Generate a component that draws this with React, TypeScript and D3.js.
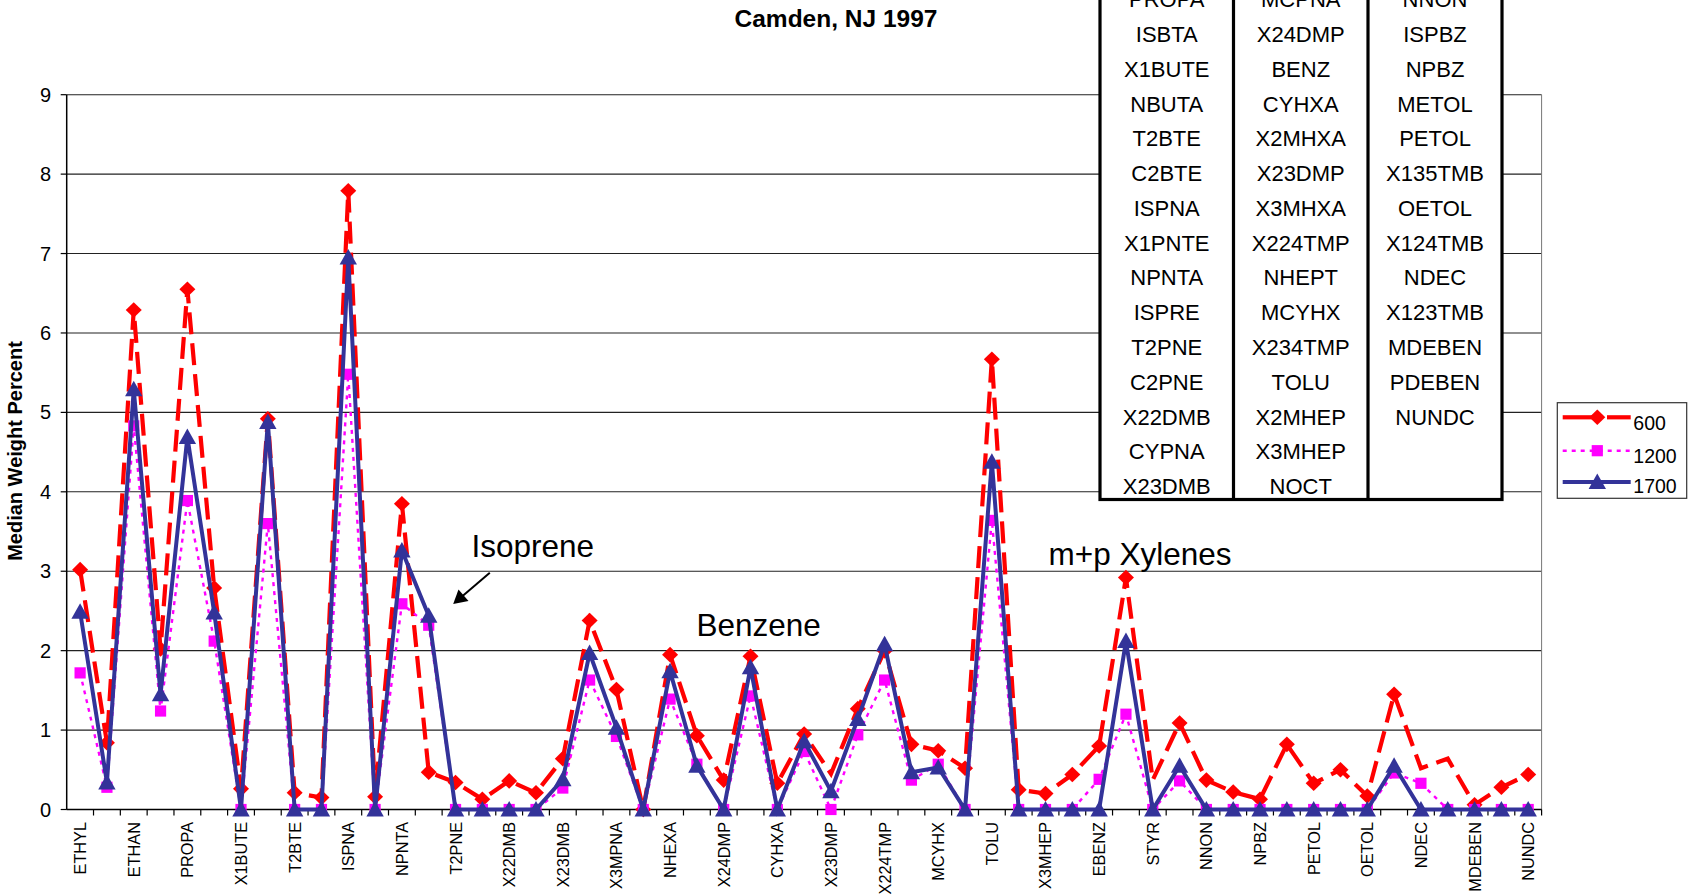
import React from "react";
import * as d3 from "d3";

const categories = ["ETHYL","ACETY","ETHAN","PRPE","PROPA","ISBTA","X1BUTE","NBUTA","T2BTE","C2BTE","ISPNA","X1PNTE","NPNTA","ISPRE","T2PNE","C2PNE","X22DMB","CYPNA","X23DMB","X2MPNA","X3MPNA","X1HEX","NHEXA","MCPNA","X24DMP","BENZ","CYHXA","X2MHXA","X23DMP","X3MHXA","X224TMP","NHEPT","MCYHX","X234TMP","TOLU","X2MHEP","X3MHEP","NOCT","EBENZ","MPXYL","STYR","OXYL","NNON","ISPBZ","NPBZ","METOL","PETOL","X135TMB","OETOL","X124TMB","NDEC","X123TMB","MDEBEN","PDEBEN","NUNDC"];

const series600 = [3.02,0.84,6.29,2.02,6.55,2.79,0.26,4.92,0.21,0.15,7.79,0.16,3.85,0.47,0.34,0.13,0.36,0.21,0.64,2.38,1.51,0,1.95,0.93,0.37,1.93,0.33,0.95,0.45,1.27,2.0,0.82,0.74,0.52,5.67,0.25,0.2,0.44,0.8,2.92,0.37,1.09,0.37,0.22,0.13,0.82,0.33,0.5,0.17,1.45,0.52,0.64,0.06,0.28,0.44];
const series1200 = [1.72,0.28,4.83,1.24,3.89,2.12,0,3.6,0,0,5.48,0,2.59,2.32,0,0,0,0,0.27,1.63,0.92,0,1.39,0.57,0,1.43,0,0.73,0,0.94,1.63,0.37,0.57,0,3.64,0,0,0,0.38,1.2,0,0.36,0,0,0,0,0,0,0,0.46,0.33,0,0,0,0];
const series1700 = [2.49,0.34,5.29,1.45,4.69,2.48,0,4.88,0,0,6.95,0,3.26,2.44,0,0,0,0,0.38,1.97,1.03,0,1.74,0.55,0,1.79,0,0.86,0.23,1.14,2.08,0.47,0.53,0,4.38,0,0,0,0,2.12,0,0.55,0,0,0,0,0,0,0,0.55,0,0,0,0,0];
// points of the 600 series drawn without a marker in the original
const series600NoMarker = [28, 40, 50, 51];

const yTicks = [0,1,2,3,4,5,6,7,8,9];
const seriesNames = ["600","1200","1700"];
const title = "Camden, NJ 1997";
const yTitle = "Median Weight Percent";
const annotations = [
  { text: "Isoprene", cat: "ISPRE" },
  { text: "Benzene", cat: "BENZ" },
  { text: "m+p Xylenes", cat: "MPXYL" },
];

const FONT = "'Liberation Sans', Arial, Helvetica, sans-serif";
const W = 1688, H = 894;
const PL = 66.7, PR = 1541.6, PB = 809.5, PT = 94.7;

const x = d3.scaleBand<string>().domain(categories).range([PL, PR]).paddingInner(0).paddingOuter(0);
const y = d3.scaleLinear().domain([0, 9]).range([PB, PT]);
const cx = (i: number) => (x(categories[i]) as number) + x.bandwidth() / 2;

const diamond = "M0,-7.8L8,0L0,7.8L-8,0Z";
const square = "M-5.6,-5.6H5.6V5.6H-5.6Z";
const triangle = "M0,-8.5L8.7,7L-8.7,7Z";

const styles = [
  { color: "#FF0000", width: 4.2, dash: "22 9", marker: diamond },
  { color: "#FF00FF", width: 2.4, dash: "4 5", marker: square },
  { color: "#333399", width: 4, dash: null as string | null, marker: triangle },
];

export default function App() {
  const data = [series600, series1200, series1700];
  const line = d3.line<number>().x((_, i) => cx(i)).y((d) => y(d));

  // table built from categories: 3 columns of 19 rows (top rows lie above the picture)
  const colEdges = [1100, 1233.5, 1368, 1502];
  const rowsPerCol = 19;
  const rowH = 34.78;
  const rowBase = (r: number) => 42 + (r - 5) * rowH;
  const tableTop = rowBase(0) - 8 - 27;
  const tableBottom = 499.5;

  const annX: Record<string, number> = { "Isoprene": 471.5, "Benzene": 696.5, "m+p Xylenes": 1048.5 };
  const annY: Record<string, number> = { "Isoprene": 557, "Benzene": 635.5, "m+p Xylenes": 565 };

  return (
    <div style={{ position: "absolute", left: 0, top: 0 }}>
      <svg width={W} height={H} style={{ display: "block", background: "#fff" }} fontFamily={FONT}>
        <rect x={0} y={0} width={W} height={H} fill="#fff" />
        {yTicks.map((t) => (
          <line key={"g" + t} x1={PL} x2={PR} y1={y(t)} y2={y(t)} stroke="#222" strokeWidth={1.1} />
        ))}
        <line x1={PR} x2={PR} y1={PT} y2={PB} stroke="#777" strokeWidth={1} />
        <line x1={PL} x2={PL} y1={PT} y2={PB} stroke="#000" strokeWidth={1.5} />
        {yTicks.map((t) => (
          <g key={"yt" + t}>
            <line x1={PL - 6} x2={PL} y1={y(t)} y2={y(t)} stroke="#000" strokeWidth={1.2} />
            <text x={51} y={y(t) + 7} textAnchor="end" fontSize={20} fill="#000">{t}</text>
          </g>
        ))}
        <line x1={PL} x2={PR} y1={PB} y2={PB} stroke="#000" strokeWidth={1.5} />
        {categories.map((c, i) => (
          <line key={"xt" + i} x1={(x(c) as number) + x.bandwidth()} x2={(x(c) as number) + x.bandwidth()} y1={PB} y2={PB + 6} stroke="#000" strokeWidth={1.2} />
        ))}
        {categories.map((c, i) =>
          i % 2 === 0 ? (
            <text key={"xl" + i} transform={`translate(${cx(i) + 6},${PB + 12.5}) rotate(-90)`} textAnchor="end" fontSize={16.3} fill="#000">{c}</text>
          ) : null
        )}
        <text transform={`translate(22,451) rotate(-90)`} textAnchor="middle" fontSize={20} fontWeight="bold" fill="#000">{yTitle}</text>
        <text x={836} y={26.5} textAnchor="middle" fontSize={24.5} fontWeight="bold" fill="#000">{title}</text>

        {data.map((vals, s) => (
          <g key={"s" + s}>
            <path d={line(vals) as string} fill="none" stroke={styles[s].color} strokeWidth={styles[s].width}
              strokeDasharray={styles[s].dash || undefined} strokeLinejoin="miter" />
            {vals.map((v, i) =>
              s === 0 && series600NoMarker.includes(i) ? null : (
                <path key={i} d={styles[s].marker} transform={`translate(${cx(i)},${y(v)})`} fill={styles[s].color} />
              )
            )}
          </g>
        ))}

        {annotations.map((a) => (
          <text key={a.text} x={annX[a.text]} y={annY[a.text]} fontSize={31.5} fill="#000">{a.text}</text>
        ))}
        <line x1={489.8} y1={572.7} x2={462} y2={596.5} stroke="#000" strokeWidth={2} />
        <path d="M453.2,604 L458.5,589.5 L468.5,601 Z" fill="#000" />

        <rect x={colEdges[0]} y={tableTop} width={colEdges[3] - colEdges[0]} height={tableBottom - tableTop} fill="#fff" stroke="#000" strokeWidth={3.2} />
        {[1, 2].map((k) => (
          <line key={"cd" + k} x1={colEdges[k]} x2={colEdges[k]} y1={tableTop} y2={tableBottom} stroke="#000" strokeWidth={3.2} />
        ))}
        {[0, 1, 2].map((col) =>
          categories.slice(col * rowsPerCol, col * rowsPerCol + rowsPerCol).map((c, r) =>
            rowBase(r) > 2 ? (
              <text key={"tb" + col + r} x={(colEdges[col] + colEdges[col + 1]) / 2} y={rowBase(r)} textAnchor="middle" fontSize={22} fill="#000">{c}</text>
            ) : null
          )
        )}

        <rect x={1557.3} y={402.7} width={129.4} height={95.6} fill="#fff" stroke="#333" strokeWidth={1.2} />
        {seriesNames.map((n, s) => {
          const ly = [417.3, 450.7, 482][s];
          return (
            <g key={"lg" + s}>
              <line x1={1562.7} x2={1630.7} y1={ly} y2={ly} stroke={styles[s].color} strokeWidth={styles[s].width}
                strokeDasharray={s === 0 ? "30 40" : styles[s].dash || undefined} />
              {s === 0 ? <line x1={1607} x2={1630.7} y1={ly} y2={ly} stroke={styles[s].color} strokeWidth={styles[s].width} /> : null}
              <path d={styles[s].marker} transform={`translate(1597.3,${ly})`} fill={styles[s].color} />
              <text x={1633.3} y={[430, 462.7, 493.3][s]} fontSize={19.5} fill="#000">{n}</text>
            </g>
          );
        })}
      </svg>
    </div>
  );
}
